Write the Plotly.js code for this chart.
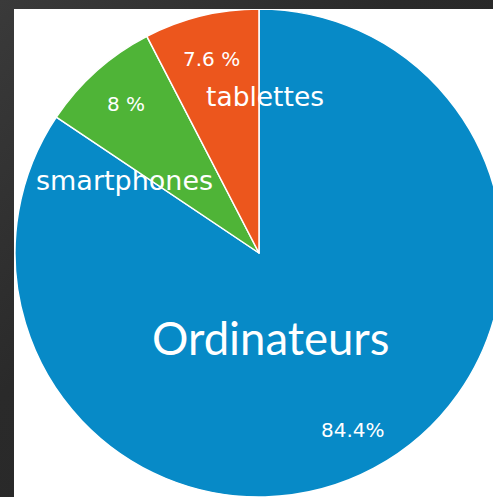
<!DOCTYPE html>
<html>
<head>
<meta charset="utf-8">
<script src="https://cdn.plot.ly/plotly-3.0.1.min.js"></script>
<style>
  html, body { margin: 0; padding: 0; width: 493px; height: 497px; overflow: hidden;
    background: linear-gradient(135deg, #3a3a3a 0%, #2a2a2a 40%, #262626 100%); }
  #panel { position: absolute; left: 14px; top: 9px; width: 479px; height: 488px;
    background: #ffffff; overflow: hidden; }
  #chart { position: absolute; left: 0; top: 0; width: 490px; height: 488px; }
</style>
</head>
<body>
<div id="panel"><div id="chart"></div></div>
<script>
// Data (clockwise from 12 o'clock)
const labels = ['Ordinateurs', 'smartphones', 'tablettes'];
const values = [84.4, 8, 7.6];
const percentTexts = ['84.4%', '8 %', '7.6 %'];
const sliceColors = ['#078ac7', '#4fb437', '#ec561d'];

// Layout-only settings (label placement, in pixels relative to the pie centre)
const W = 490, H = 488;
const cx = W / 2, cy = H / 2, R = Math.min(W, H) / 2;
const pctRadius = 0.82;
const nameOffsets = [[11, 84], [-135, -73], [6, -157]];
const nameSizes = [45.5, 27, 26.5];
const nameFonts = ['Lato', 'DejaVu Sans', 'DejaVu Sans'];

const total = values.reduce((a, b) => a + b, 0);
const annotations = [];
let start = 0;
values.forEach((v, i) => {
  const mid = start + v / 2;
  start += v;
  const ang = mid / total * 2 * Math.PI; // clockwise from 12 o'clock
  const px = cx + Math.sin(ang) * R * pctRadius;
  const py = cy - Math.cos(ang) * R * pctRadius;
  annotations.push({
    text: percentTexts[i], xref: 'paper', yref: 'paper',
    x: px / W, y: 1 - py / H, showarrow: false,
    xanchor: 'center', yanchor: 'middle',
    font: { family: 'DejaVu Sans', size: 20, color: '#ffffff' }
  });
  const nx = cx + nameOffsets[i][0], ny = cy + nameOffsets[i][1];
  annotations.push({
    text: labels[i], xref: 'paper', yref: 'paper',
    x: nx / W, y: 1 - ny / H, showarrow: false,
    xanchor: 'center', yanchor: 'middle',
    font: { family: nameFonts[i], size: nameSizes[i], color: '#ffffff' }
  });
});

Plotly.newPlot('chart', [{
  type: 'pie',
  labels: labels,
  values: values,
  sort: false,
  direction: 'clockwise',
  rotation: 0,
  textinfo: 'none',
  hoverinfo: 'none',
  marker: { colors: sliceColors, line: { color: '#ffffff', width: 1.5 } },
  domain: { x: [0, 1], y: [0, 1] }
}], {
  width: W, height: H,
  margin: { l: 0, r: 0, t: 0, b: 0, pad: 0 },
  paper_bgcolor: 'rgba(0,0,0,0)',
  plot_bgcolor: 'rgba(0,0,0,0)',
  showlegend: false,
  annotations: annotations
}, { staticPlot: true, displayModeBar: false });
</script>
</body>
</html>
